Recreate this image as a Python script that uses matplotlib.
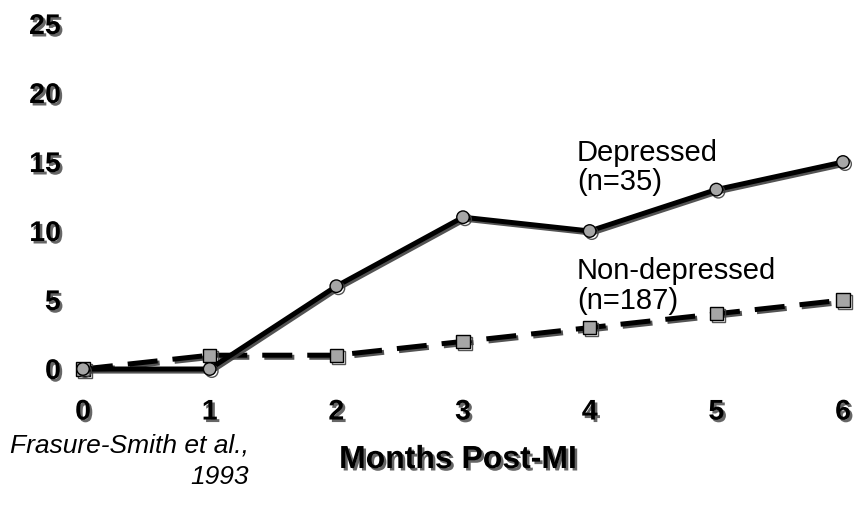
import matplotlib
matplotlib.use("Agg")
import matplotlib.pyplot as plt
import matplotlib.patheffects as pe

months = [0, 1, 2, 3, 4, 5, 6]
depressed = [0, 0, 6, 11, 10, 13, 15]
non_depressed = [0, 1, 1, 2, 3, 4, 5]
y_ticks = [0, 5, 10, 15, 20, 25]
x_ticks = [0, 1, 2, 3, 4, 5, 6]

plt.rcParams['font.family'] = ['Liberation Sans', 'DejaVu Sans']

fig = plt.figure(figsize=(8.55, 5.12), dpi=100)
ax = fig.add_axes([83/855, 143/512, 760/855, 345/512])
ax.set_xlim(0, 6)
ax.set_ylim(0, 25)
for s in ax.spines.values():
    s.set_visible(False)

line_fx = [pe.SimpleLineShadow(offset=(1.5, -1.5), shadow_color='#404040', alpha=0.9), pe.Normal()]
text_fx = [pe.SimplePatchShadow(offset=(1.8, -1.8), shadow_rgbFace='#555555', alpha=0.9), pe.Normal()]

ax.plot(months, non_depressed, color='black', lw=3.6, dashes=(6, 3),
        marker='s', markersize=9.5, markerfacecolor='#a6a6a6', markeredgecolor='black',
        markeredgewidth=1, clip_on=False, path_effects=line_fx, zorder=3)
ax.plot(months, depressed, color='black', lw=3.6, solid_joinstyle='round',
        marker='o', markersize=9, markerfacecolor='#a6a6a6', markeredgecolor='black',
        markeredgewidth=1, clip_on=False, path_effects=line_fx, zorder=4)

ax.set_xticks(x_ticks)
ax.set_yticks(y_ticks)
ax.set_xticklabels([str(v) for v in x_ticks])
ax.set_yticklabels([str(v) for v in y_ticks])
ax.tick_params(length=0)
ax.tick_params(axis='x', pad=22)
ax.tick_params(axis='y', pad=16)
for lab in ax.get_xticklabels() + ax.get_yticklabels():
    lab.set_fontsize(20.5)
    lab.set_fontweight('bold')
    lab.set_path_effects(text_fx)

ax.text(3.9, 16.7, "Depressed\n(n=35)", fontsize=21, ha='left', va='top',
        linespacing=1.08)
ax.text(3.9, 8.1, "Non-depressed\n(n=187)", fontsize=21, ha='left', va='top',
        linespacing=1.08, zorder=2)

fig.text(458/855, 1 - 460/512, "Months Post-MI", fontsize=23, fontweight='bold',
         ha='center', va='center', path_effects=text_fx)
fig.text(249/855, 1 - 461/512, "Frasure-Smith et al.,\n1993", fontsize=19,
         style='italic', ha='right', va='center', multialignment='right',
         linespacing=1.38)

fig.savefig("out.png", dpi=100)
